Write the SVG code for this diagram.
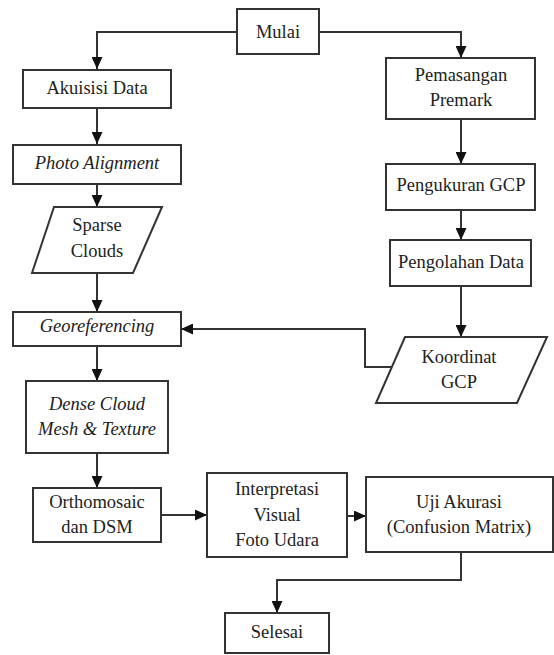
<svg xmlns="http://www.w3.org/2000/svg" width="554" height="655" viewBox="0 0 554 655">
<defs>
<marker id="ah" markerWidth="12" markerHeight="11" refX="12" refY="5.5" orient="auto" markerUnits="userSpaceOnUse"><path d="M0,0 L12,5.5 L0,11 Z" fill="#111"/></marker>
<style>
.box{fill:#fff;stroke:#333;stroke-width:2}
.t{font-size:18.5px;fill:#222;text-anchor:middle}
.i{font-style:italic}
.c{fill:none;stroke:#333;stroke-width:2;marker-end:url(#ah)}
</style>
</defs>
<rect width="554" height="655" fill="#fff"/>
<g id="connectors">
<path class="c" d="M237,32 H97 V69"/>
<path class="c" d="M319,32 H461 V58"/>
<path class="c" d="M97,108 V144"/>
<path class="c" d="M97,184 V207"/>
<path class="c" d="M97,273 V312"/>
<path class="c" d="M97,346 V381"/>
<path class="c" d="M97,453 V488"/>
<path class="c" d="M161,515 H207"/>
<path class="c" d="M347,516 H366"/>
<path class="c" d="M461,552 V580 H277 V613"/>
<path class="c" d="M461,119 V164"/>
<path class="c" d="M461,210 V240"/>
<path class="c" d="M461,286 V337"/>
<path class="c" d="M392,367 H365 V329 H181"/>
</g>
<g font-family="Liberation Serif, Times New Roman, DejaVu Serif, serif">
<g id="mulai"><rect class="box" x="237" y="9" width="82" height="45"/><text class="t" x="278" y="38">Mulai</text></g>
<g id="akuisisi"><rect class="box" x="23" y="70" width="148" height="38"/><text class="t" x="97" y="94">Akuisisi Data</text></g>
<g id="photo"><rect class="box" x="13" y="145" width="168" height="39"/><text class="t i" x="97" y="169">Photo Alignment</text></g>
<g id="sparse"><path class="box" d="M54,207 H162 L133,273 H32 Z"/><text class="t" x="97" y="231">Sparse</text><text class="t" x="97" y="257">Clouds</text></g>
<g id="georef"><rect class="box" x="13" y="312" width="168" height="34"/><text class="t i" x="97" y="332">Georeferencing</text></g>
<g id="dense"><rect class="box" x="26" y="381" width="142" height="72"/><text class="t i" x="97" y="410">Dense Cloud</text><text class="t i" x="97" y="435">Mesh &amp; Texture</text></g>
<g id="ortho"><rect class="box" x="33" y="488" width="128" height="54"/><text class="t" x="97" y="508">Orthomosaic</text><text class="t" x="97" y="533">dan DSM</text></g>
<g id="interp"><rect class="box" x="207" y="473" width="140" height="84"/><text class="t" x="277" y="495">Interpretasi</text><text class="t" x="277" y="521">Visual</text><text class="t" x="277" y="546">Foto Udara</text></g>
<g id="uji"><rect class="box" x="366" y="477" width="187" height="75"/><text class="t" x="459" y="508">Uji Akurasi</text><text class="t" x="459" y="533">(Confusion Matrix)</text></g>
<g id="selesai"><rect class="box" x="225" y="613" width="104" height="40"/><text class="t" x="277" y="638">Selesai</text></g>
<g id="pemasangan"><rect class="box" x="386" y="58" width="149" height="61"/><text class="t" x="461" y="81">Pemasangan</text><text class="t" x="461" y="106">Premark</text></g>
<g id="pengukuran"><rect class="box" x="386" y="164" width="149" height="46"/><text class="t" x="461" y="191">Pengukuran GCP</text></g>
<g id="pengolahan"><rect class="box" x="390" y="240" width="141" height="46"/><text class="t" x="461" y="268">Pengolahan Data</text></g>
<g id="koordinat"><path class="box" d="M405,337 H547 L517,403 H376 Z"/><text class="t" x="459" y="363">Koordinat</text><text class="t" x="459" y="388">GCP</text></g>
</g>
</svg>
